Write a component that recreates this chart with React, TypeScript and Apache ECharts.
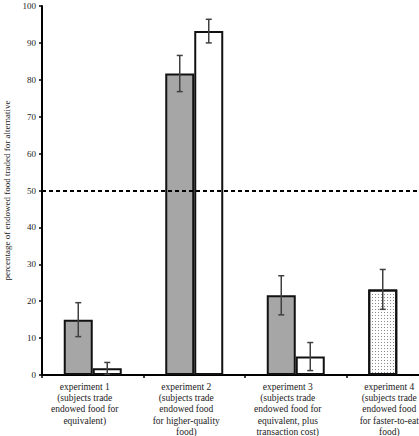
import React, { useEffect, useRef } from "react";
import * as echarts from "echarts";

const categories = [
  "experiment 1\n(subjects trade\nendowed food for\nequivalent)",
  "experiment 2\n(subjects trade\nendowed food\nfor higher-quality\nfood)",
  "experiment 3\n(subjects trade\nendowed food for\nequivalent, plus\ntransaction cost)",
  "experiment 4\n(subjects trade\nendowed food\nfor faster-to-eat\nfood)",
];
const grayValues = [15, 81.7, 21.6, 23.2];
const grayErrors = [4.6, 4.9, 5.3, 5.4];
const whiteValues = [1.8, 93.2, 5.0, null];
const whiteErrors = [1.6, 3.2, 3.8, null];
const dottedIndex = 3;
const chanceLevel = 50;
const yTicks = { min: 0, max: 100, interval: 10 };

const BAR_W = 29;
const FONT = "Liberation Serif";

export default function App() {
  const ref = useRef<HTMLDivElement>(null);
  useEffect(() => {
    document.body.style.margin = "0";
    const chart = echarts.init(ref.current!, null, { renderer: "svg" });

    const grayData = grayValues.map((v, i) =>
      i === dottedIndex
        ? {
            value: v,
            itemStyle: {
              color: "#ffffff",
              decal: {
                symbol: "rect",
                symbolSize: 1,
                dashArrayX: [1, 2],
                dashArrayY: [1, 2],
                color: "#8a8a8a",
                backgroundColor: "#f4f4f4",
              },
            },
          }
        : v
    );

    const errData = (vals: (number | null)[], errs: (number | null)[]) =>
      vals
        .map((v, i) => (v == null ? null : [i, v - (errs[i] as number), v + (errs[i] as number)]))
        .filter((d) => d != null);

    const errSeries = (vals: (number | null)[], errs: (number | null)[], side: number) => ({
      type: "custom",
      silent: true,
      z: 5,
      data: errData(vals, errs),
      encode: { x: 0, y: [1, 2] },
      renderItem: (params: any, api: any) => {
        const idx = api.value(0);
        const lo = api.coord([idx, api.value(1)]);
        const hi = api.coord([idx, api.value(2)]);
        const x = lo[0] + (side * BAR_W) / 2;
        const cap = 3;
        const style = { stroke: "#404040", lineWidth: 1.5, fill: null };
        return {
          type: "group",
          children: [
            { type: "line", shape: { x1: x, y1: lo[1], x2: x, y2: hi[1] }, style },
            { type: "line", shape: { x1: x - cap, y1: lo[1], x2: x + cap, y2: lo[1] }, style },
            { type: "line", shape: { x1: x - cap, y1: hi[1], x2: x + cap, y2: hi[1] }, style },
          ],
        };
      },
    });

    chart.setOption({
      animation: false,
      backgroundColor: "#ffffff",
      grid: {
        left: 42,
        top: 6,
        bottom: 61,
        right: -29,
        containLabel: false,
        outerBoundsMode: "none",
      },
      xAxis: {
        type: "category",
        data: categories,
        axisLine: { lineStyle: { color: "#000", width: 2 } },
        axisTick: { show: true, length: 3, lineStyle: { color: "#000", width: 1.5 } },
        axisLabel: {
          interval: 0,
          margin: 6,
          fontFamily: FONT,
          fontSize: 9.5,
          lineHeight: 11.3,
          color: "#222",
          align: "center",
          padding: [0, 16, 0, 0],
          hideOverlap: false,
        },
      },
      yAxis: {
        type: "value",
        min: yTicks.min,
        max: yTicks.max,
        interval: yTicks.interval,
        name: "percentage of endowed food traded for alternative",
        nameLocation: "middle",
        nameGap: 29,
        nameRotate: 90,
        nameTextStyle: { fontFamily: FONT, fontSize: 9, color: "#222" },
        axisLine: { show: true, lineStyle: { color: "#000", width: 2 } },
        axisTick: { show: true, length: 3, lineStyle: { color: "#000", width: 1.5 } },
        axisLabel: { fontFamily: FONT, fontSize: 9, color: "#222", margin: 6 },
        splitLine: { show: false },
      },
      series: [
        {
          type: "bar",
          data: grayData,
          barWidth: BAR_W,
          barGap: "0%",
          itemStyle: { color: "#a6a6a6", borderColor: "#111", borderWidth: 2 },
          markLine: {
            silent: true,
            symbol: "none",
            label: { show: false },
            lineStyle: { color: "#000", width: 1.8, type: [4, 3] },
            data: [{ yAxis: chanceLevel }],
          },
        },
        {
          type: "bar",
          data: whiteValues,
          barWidth: BAR_W,
          barGap: "0%",
          itemStyle: { color: "#ffffff", borderColor: "#111", borderWidth: 2 },
        },
        errSeries(grayValues, grayErrors, -1),
        errSeries(whiteValues, whiteErrors, 1),
      ],
    });
    return () => chart.dispose();
  }, []);
  return <div ref={ref} style={{ width: 419, height: 436 }} />;
}
